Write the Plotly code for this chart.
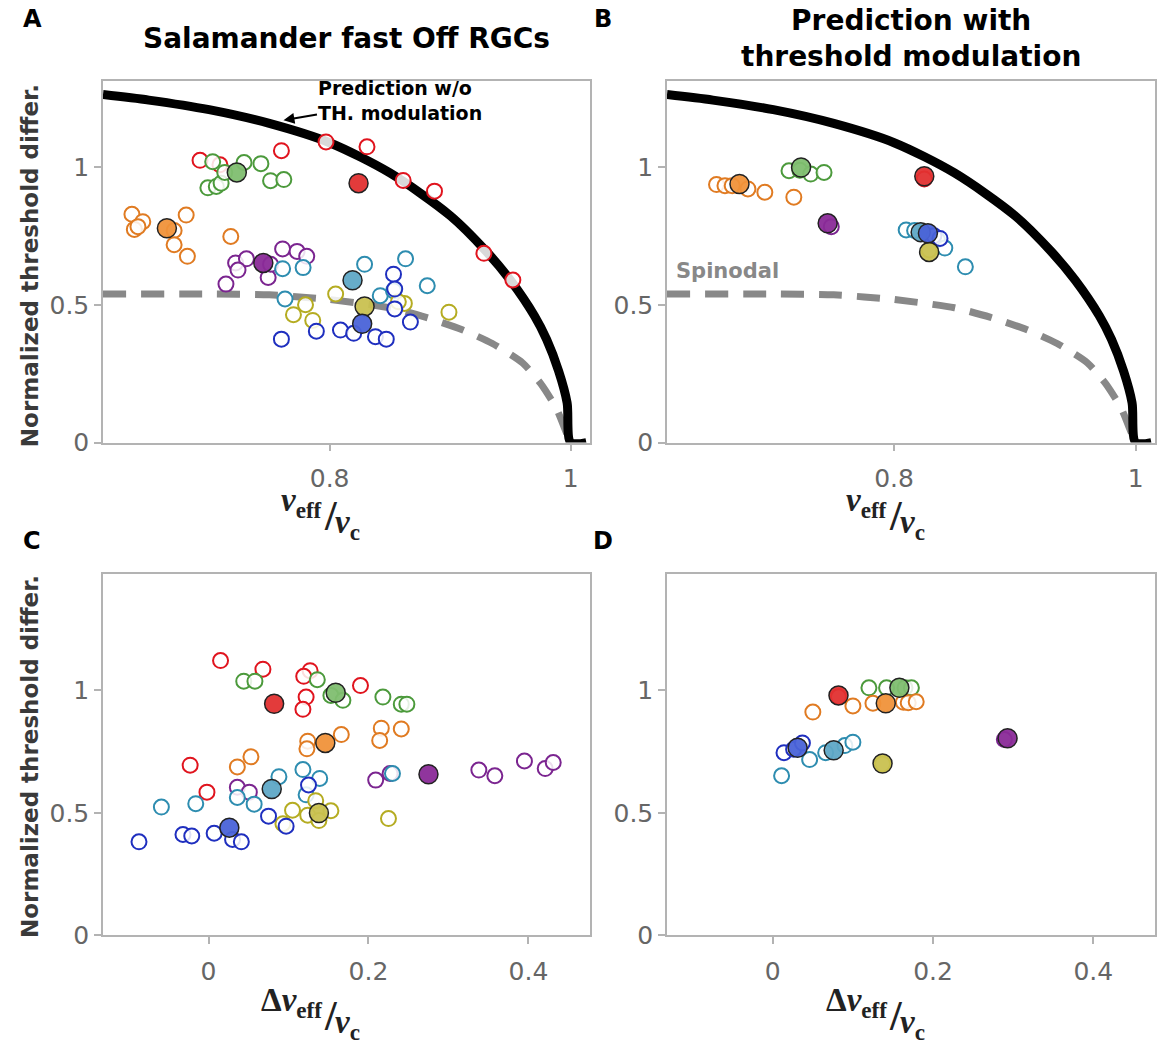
import plotly.graph_objects as go

W, H = 1157, 1047

# ---------------------------------------------------------------------------
# Data
# ---------------------------------------------------------------------------
groups = ["red", "green", "orange", "purple", "teal", "yellow", "blue"]

# Theory curves in the (nu_eff / nu_c , threshold difference) plane
pred_x = [0.612, 0.65, 0.70, 0.75, 0.80, 0.85, 0.90, 0.93, 0.95, 0.97, 0.98, 0.99, 0.997, 1.0, 1.013]
pred_y = [1.265, 1.245, 1.21, 1.16, 1.09, 0.98, 0.825, 0.695, 0.59, 0.46, 0.375, 0.26, 0.145, 0.0, 0.0]

spin_x = [0.612, 0.70, 0.75, 0.80, 0.85, 0.88, 0.91, 0.935, 0.96, 0.975, 0.988, 0.996, 1.0]
spin_y = [0.54, 0.54, 0.537, 0.52, 0.49, 0.455, 0.41, 0.36, 0.29, 0.215, 0.125, 0.04, 0.0]

# Panel A: individual cells (x = nu_eff/nu_c, y = normalized threshold difference)
cells_a = {
    "red": ([0.6925, 0.709, 0.760, 0.797, 0.831, 0.861, 0.887, 0.928, 0.952],
            [1.026, 1.010, 1.061, 1.093, 1.075, 0.953, 0.914, 0.688, 0.591]),
    "green": ([0.703, 0.729, 0.743, 0.699, 0.706, 0.710, 0.751, 0.762, 0.713],
              [1.021, 1.018, 1.014, 0.926, 0.931, 0.943, 0.952, 0.956, 0.982]),
    "orange": ([0.636, 0.645, 0.638, 0.641, 0.681, 0.671, 0.671, 0.682, 0.718],
               [0.830, 0.803, 0.775, 0.785, 0.827, 0.771, 0.719, 0.677, 0.749]),
    "purple": ([0.722, 0.731, 0.724, 0.714, 0.761, 0.773, 0.781, 0.749, 0.751],
               [0.653, 0.668, 0.627, 0.576, 0.704, 0.695, 0.677, 0.600, 0.648]),
    "teal": ([0.761, 0.778, 0.829, 0.863, 0.881, 0.763, 0.842, 0.853],
             [0.632, 0.636, 0.648, 0.668, 0.570, 0.522, 0.534, 0.552]),
    "yellow": ([0.780, 0.770, 0.786, 0.805, 0.862, 0.899, 0.857],
               [0.501, 0.465, 0.444, 0.540, 0.506, 0.474, 0.512]),
    "blue": ([0.760, 0.789, 0.809, 0.820, 0.838, 0.847, 0.853, 0.854, 0.854, 0.867],
             [0.376, 0.405, 0.409, 0.397, 0.385, 0.376, 0.612, 0.558, 0.486, 0.438]),
}
means_a = {
    "red": (0.824, 0.943), "green": (0.723, 0.982), "orange": (0.665, 0.779),
    "purple": (0.745, 0.653), "teal": (0.819, 0.590), "yellow": (0.829, 0.495),
    "blue": (0.827, 0.432),
}

# Panel B: prediction with threshold modulation
cells_b = {
    "red": ([0.825], [0.958]),
    "green": ([0.713, 0.722, 0.731, 0.742], [0.988, 0.990, 0.976, 0.982]),
    "orange": ([0.653, 0.660, 0.666, 0.679, 0.693, 0.717],
               [0.938, 0.934, 0.934, 0.922, 0.910, 0.892]),
    "purple": ([0.748], [0.785]),
    "teal": ([0.810, 0.817, 0.836, 0.842, 0.859], [0.773, 0.771, 0.737, 0.707, 0.639]),
    "yellow": ([0.829], [0.700]),
    "blue": ([0.833, 0.838], [0.752, 0.742]),
}
means_b = {
    "red": (0.825, 0.968), "green": (0.723, 1.000), "orange": (0.672, 0.940),
    "purple": (0.745, 0.797), "teal": (0.822, 0.765), "yellow": (0.829, 0.693),
    "blue": (0.828, 0.761),
}

# Panel C: individual cells (x = delta nu_eff/nu_c)
cells_c = {
    "red": ([0.015, 0.068, 0.127, 0.119, 0.190, 0.122, 0.118, -0.023, -0.002],
            [1.122, 1.087, 1.081, 1.058, 1.020, 0.973, 0.923, 0.695, 0.585]),
    "green": ([0.044, 0.058, 0.136, 0.153, 0.168, 0.218, 0.241, 0.248],
              [1.038, 1.038, 1.044, 0.980, 0.960, 0.973, 0.944, 0.944]),
    "orange": ([0.124, 0.123, 0.166, 0.216, 0.214, 0.241, 0.053, 0.036],
               [0.793, 0.762, 0.820, 0.846, 0.796, 0.843, 0.729, 0.688]),
    "purple": ([0.036, 0.051, 0.209, 0.227, 0.338, 0.358, 0.395, 0.421, 0.431],
               [0.605, 0.585, 0.634, 0.661, 0.675, 0.652, 0.712, 0.681, 0.706]),
    "teal": ([-0.059, -0.016, 0.036, 0.057, 0.088, 0.118, 0.139, 0.122, 0.230],
             [0.524, 0.538, 0.563, 0.536, 0.648, 0.677, 0.641, 0.574, 0.661]),
    "yellow": ([0.105, 0.124, 0.134, 0.153, 0.138, 0.093, 0.225],
               [0.511, 0.491, 0.550, 0.509, 0.469, 0.456, 0.477]),
    "blue": ([-0.087, -0.032, -0.021, 0.007, 0.030, 0.041, 0.075, 0.097, 0.125],
             [0.382, 0.412, 0.406, 0.417, 0.392, 0.382, 0.487, 0.446, 0.614]),
}
means_c = {
    "red": (0.082, 0.946), "green": (0.159, 0.991), "orange": (0.146, 0.786),
    "purple": (0.275, 0.658), "teal": (0.079, 0.598), "yellow": (0.138, 0.500),
    "blue": (0.026, 0.440),
}

# Panel D
cells_d = {
    "red": ([0.082], [0.974]),
    "green": ([0.120, 0.142, 0.165, 0.173], [1.011, 1.011, 1.011, 1.011]),
    "orange": ([0.050, 0.100, 0.125, 0.163, 0.169, 0.179],
               [0.912, 0.937, 0.948, 0.952, 0.950, 0.954]),
    "purple": ([0.289], [0.800]),
    "teal": ([0.011, 0.046, 0.066, 0.090, 0.100], [0.652, 0.718, 0.746, 0.775, 0.789]),
    "yellow": ([0.137], [0.700]),
    "blue": ([0.014, 0.026, 0.037], [0.746, 0.760, 0.786]),
}
means_d = {
    "red": (0.082, 0.980), "green": (0.158, 1.011), "orange": (0.141, 0.948),
    "purple": (0.293, 0.805), "teal": (0.076, 0.756), "yellow": (0.137, 0.702),
    "blue": (0.031, 0.766),
}

# ---------------------------------------------------------------------------
# Styles
# ---------------------------------------------------------------------------
edge_color = {
    "red": "#e0141e", "green": "#4c9a3c", "orange": "#e07b22", "purple": "#7b2590",
    "teal": "#2e8db0", "yellow": "#b5ac22", "blue": "#1f2fbf",
}
fill_color = {
    "red": "rgba(226,48,48,0.95)", "green": "rgba(128,190,112,0.95)",
    "orange": "rgba(240,146,58,0.95)", "purple": "rgba(138,42,152,0.95)",
    "teal": "rgba(95,168,198,0.95)", "yellow": "rgba(201,193,80,0.95)",
    "blue": "rgba(74,99,216,0.95)",
}

SANS = "DejaVu Sans"
SERIF = "Liberation Serif"
TICK_FONT = dict(family=SANS, size=25, color="#666666")
AX_COLOR = "#b3b3b3"

fig = go.Figure()


def add_curves(xa, ya):
    fig.add_trace(go.Scatter(
        x=spin_x, y=spin_y, mode="lines", xaxis=xa, yaxis=ya,
        line=dict(color="#888888", width=7, dash="23px,15px", shape="spline", smoothing=0.6),
        hoverinfo="skip", showlegend=False))
    fig.add_trace(go.Scatter(
        x=pred_x, y=pred_y, mode="lines", xaxis=xa, yaxis=ya,
        line=dict(color="black", width=9, shape="spline", smoothing=0.8),
        hoverinfo="skip", showlegend=False))


def add_points(cells, means, xa, ya):
    for g in groups:
        xs, ys = cells[g]
        fig.add_trace(go.Scatter(
            x=xs, y=ys, mode="markers", xaxis=xa, yaxis=ya,
            marker=dict(size=15, color="rgba(255,255,255,0.85)",
                        line=dict(color=edge_color[g], width=2)),
            hoverinfo="skip", showlegend=False))
    for g in groups:
        mx, my = means[g]
        fig.add_trace(go.Scatter(
            x=[mx], y=[my], mode="markers", xaxis=xa, yaxis=ya,
            marker=dict(size=19, color=fill_color[g],
                        line=dict(color="#222222", width=1.5)),
            hoverinfo="skip", showlegend=False))


add_curves("x", "y")
add_points(cells_a, means_a, "x", "y")
add_curves("x2", "y2")
add_points(cells_b, means_b, "x2", "y2")
add_points(cells_c, means_c, "x3", "y3")
add_points(cells_d, means_d, "x4", "y4")

# ---------------------------------------------------------------------------
# Axes
# ---------------------------------------------------------------------------
col_left = [103 / W, 590 / W]
col_right = [667 / W, 1155 / W]
row_top = [1 - 449 / H, 1 - 82 / H]
row_bot = [1 - 949 / H, 1 - 582 / H]


def axis_style(**kw):
    d = dict(showline=True, linecolor=AX_COLOR, linewidth=1.5, mirror=True,
             ticks="outside", ticklen=7, tickwidth=1.5, tickcolor=AX_COLOR,
             showgrid=False, zeroline=False, tickfont=TICK_FONT)
    d.update(kw)
    return d


nu_range = [0.612, 1.016]
dnu_range = [-0.132, 0.477]
top_yrange = [0, 1.315]
bot_yrange = [0, 1.477]

fig.update_layout(
    width=W, height=H, autosize=False,
    margin=dict(l=0, r=0, t=0, b=0),
    paper_bgcolor="white", plot_bgcolor="white",
    xaxis=axis_style(domain=col_left, anchor="y", range=nu_range,
                     tickvals=[0.8, 1.0], ticktext=["0.8", "1"], ticklabelstandoff=6),
    yaxis=axis_style(domain=row_top, anchor="x", range=top_yrange,
                     tickvals=[0, 0.5, 1], ticktext=["0", "0.5", "1"]),
    xaxis2=axis_style(domain=col_right, anchor="y2", range=nu_range,
                      tickvals=[0.8, 1.0], ticktext=["0.8", "1"], ticklabelstandoff=6),
    yaxis2=axis_style(domain=row_top, anchor="x2", range=top_yrange,
                      tickvals=[0, 0.5, 1], ticktext=["0", "0.5", "1"]),
    xaxis3=axis_style(domain=col_left, anchor="y3", range=dnu_range,
                      tickvals=[0, 0.2, 0.4], ticktext=["0", "0.2", "0.4"], ticklabelstandoff=6),
    yaxis3=axis_style(domain=row_bot, anchor="x3", range=bot_yrange,
                      tickvals=[0, 0.5, 1], ticktext=["0", "0.5", "1"]),
    xaxis4=axis_style(domain=col_right, anchor="y4", range=dnu_range,
                      tickvals=[0, 0.2, 0.4], ticktext=["0", "0.2", "0.4"], ticklabelstandoff=6),
    yaxis4=axis_style(domain=row_bot, anchor="x4", range=bot_yrange,
                      tickvals=[0, 0.5, 1], ticktext=["0", "0.5", "1"]),
)

# ---------------------------------------------------------------------------
# Text
# ---------------------------------------------------------------------------
ann = []


def paper_text(text, px, py, size, color="black", family=SANS, xanchor="center",
               yanchor="middle", angle=0, align="center"):
    ann.append(dict(text=text, x=px / W, y=1 - py / H, xref="paper", yref="paper",
                    showarrow=False, xanchor=xanchor, yanchor=yanchor, textangle=angle,
                    align=align, font=dict(family=family, size=size, color=color)))


# panel letters
paper_text("<b>A</b>", 32, 19, 24)
paper_text("<b>B</b>", 603, 19, 24)
paper_text("<b>C</b>", 32, 549, 24)
paper_text("<b>D</b>", 603, 549, 24)

# titles
paper_text("<b>Salamander fast Off RGCs</b>", 346, 39, 28)
paper_text("<b>Prediction with<br>threshold modulation</b>", 911, 39, 28)

# y-axis titles
paper_text("<b>Normalized threshold differ.</b>", 30, 270, 23, color="#3a3a3a", angle=-90)
paper_text("<b>Normalized threshold differ.</b>", 30, 768, 23, color="#3a3a3a", angle=-90)


# x-axis titles, drawn as a slanted fraction: numerator, large slash, lowered denominator
def fraction_title(numerator, split_x, cy):
    ink = "#222222"
    paper_text(numerator, split_x, cy, 33, color=ink, family=SERIF, xanchor="right")
    paper_text("<b>/</b>", split_x + 7, cy + 14, 42, color=ink, family=SERIF)
    paper_text("<b><i>ν</i><sub>c</sub></b>", split_x + 9, cy + 22, 33, color=ink,
               family=SERIF, xanchor="left")


num = "<b><i>ν</i><sub>eff</sub></b>"
fraction_title(num, 324, 510)
fraction_title(num, 889, 510)
fraction_title("<b>Δ</b>" + num, 324, 1017)
fraction_title("<b>Δ</b>" + num, 889, 1017)

# curve labels
ann.append(dict(text="<b>Prediction w/o<br>TH. modulation</b>", x=0.7617, y=1.172,
                xref="x", yref="y", ax=117, ay=-20, showarrow=True, arrowhead=2,
                arrowsize=1.1, arrowwidth=2, arrowcolor="black", align="left",
                font=dict(family=SANS, size=19, color="black")))
ann.append(dict(text="<b>Spinodal</b>", x=0.618, y=0.624, xref="x2", yref="y2",
                showarrow=False, xanchor="left", yanchor="middle",
                font=dict(family=SANS, size=21, color="#888888")))

fig.update_layout(annotations=ann)

fig.write_html("out.html")
